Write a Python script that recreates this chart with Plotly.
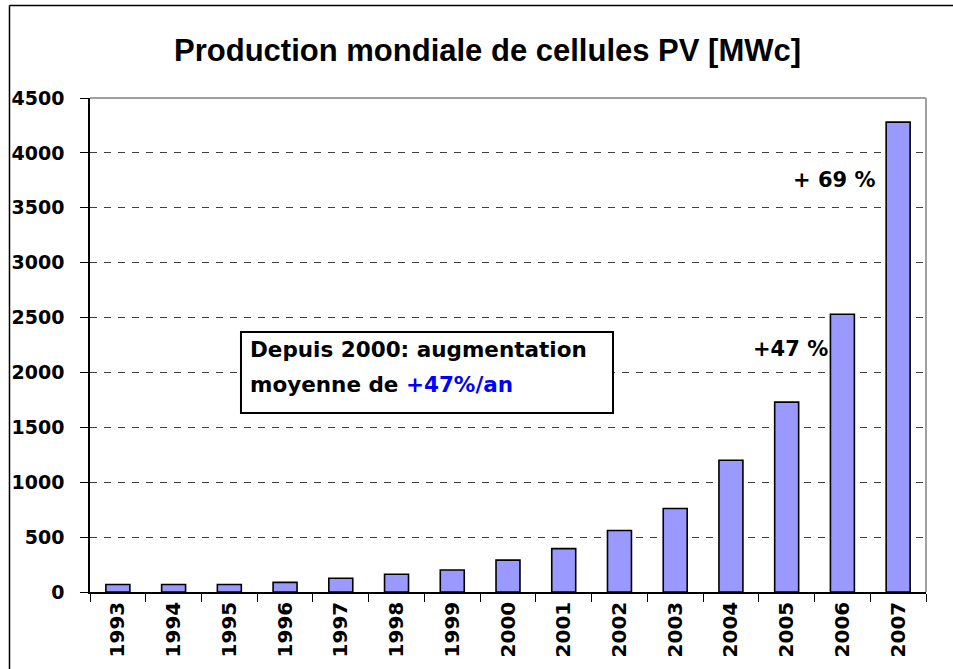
import plotly.graph_objects as go

years = ["1993", "1994", "1995", "1996", "1997", "1998", "1999", "2000",
         "2001", "2002", "2003", "2004", "2005", "2006", "2007"]
production = [68, 68, 68, 88, 125, 162, 200, 290, 395, 560, 760, 1200, 1730, 2530, 4280]

title_text = "Production mondiale de cellules PV [MWc]"
box_line1 = "Depuis 2000: augmentation"
box_line2 = "moyenne de <span style='color:#0000FF'>+47%/an</span>"
growth_2006 = "+47 %"
growth_2007 = "+ 69 %"

TICK_FONT = dict(family="DejaVu Sans", size=19, color="black", weight="bold")

fig = go.Figure(
    go.Bar(
        x=years,
        y=production,
        width=0.43,
        marker=dict(color="#9999FF", line=dict(color="black", width=1.6)),
    )
)

fig.update_layout(
    width=953,
    height=669,
    margin=dict(l=90, r=27, t=98, b=77),
    paper_bgcolor="white",
    plot_bgcolor="white",
    showlegend=False,
    title=dict(
        text=title_text,
        x=0.5116,
        xanchor="center",
        xref="container",
        y=1 - 50 / 669,
        yanchor="middle",
        yref="container",
        font=dict(family="Liberation Sans", size=31, color="black", weight="bold"),
    ),
    xaxis=dict(
        type="category",
        showline=True,
        linecolor="black",
        linewidth=1.5,
        ticks="outside",
        tickson="boundaries",
        ticklen=8,
        tickcolor="black",
        tickwidth=1.2,
        tickangle=-90,
        tickfont=dict(family="DejaVu Sans", size=20, color="black", weight="bold"),
        showgrid=False,
        zeroline=False,
    ),
    yaxis=dict(
        range=[0, 4500],
        dtick=500,
        showline=True,
        linecolor="black",
        linewidth=1.5,
        ticks="outside",
        ticklen=8,
        tickcolor="black",
        tickwidth=1.2,
        tickfont=TICK_FONT,
        ticklabelstandoff=12,
        showgrid=True,
        gridcolor="#404040",
        gridwidth=1,
        griddash="7px,7px",
        zeroline=False,
    ),
    bargap=0.57,
)

# plot-area border (grey top & right), outer chart frame (left & top)
fig.add_shape(type="line", xref="paper", yref="paper", x0=0, x1=1, y0=1, y1=1,
              line=dict(color="#A0A0A0", width=2))
fig.add_shape(type="line", xref="paper", yref="paper", x0=1, x1=1, y0=0, y1=1,
              line=dict(color="#A0A0A0", width=2))
fig.add_shape(type="line", xref="paper", yref="paper", x0=-0.0963, x1=-0.0963,
              y0=-0.3, y1=1.1872, line=dict(color="black", width=1.5))
fig.add_shape(type="line", xref="paper", yref="paper", x0=-0.0963, x1=1.2,
              y0=1.1872, y1=1.1872, line=dict(color="black", width=1.5))

# text box
fig.add_shape(type="rect", xref="paper", yref="paper",
              x0=0.1806, x1=0.6256, y0=0.3623, y1=0.5263,
              line=dict(color="black", width=2), fillcolor="white", layer="above")

BOX_FONT = dict(family="DejaVu Sans", size=21.5, color="black", weight="bold")
fig.add_annotation(text=box_line1, xref="paper", yref="paper", x=0.1890, y=0.4900,
                   xanchor="left", yanchor="middle", showarrow=False, font=BOX_FONT)
fig.add_annotation(text=box_line2, xref="paper", yref="paper", x=0.1890, y=0.4191,
                   xanchor="left", yanchor="middle", showarrow=False, font=BOX_FONT)

LABEL_FONT = dict(family="DejaVu Sans", size=21, color="black", weight="bold")
fig.add_annotation(text=growth_2007, xref="x", yref="y", x=12.85, y=3750,
                   showarrow=False, font=LABEL_FONT)
fig.add_annotation(text=growth_2006, xref="x", yref="y", x=12.06, y=2210,
                   showarrow=False, font=LABEL_FONT)

fig.write_html(
    "out.html",
    config={"displayModeBar": False},
    post_script="document.body.style.margin='0';document.body.style.overflow='hidden';",
)
